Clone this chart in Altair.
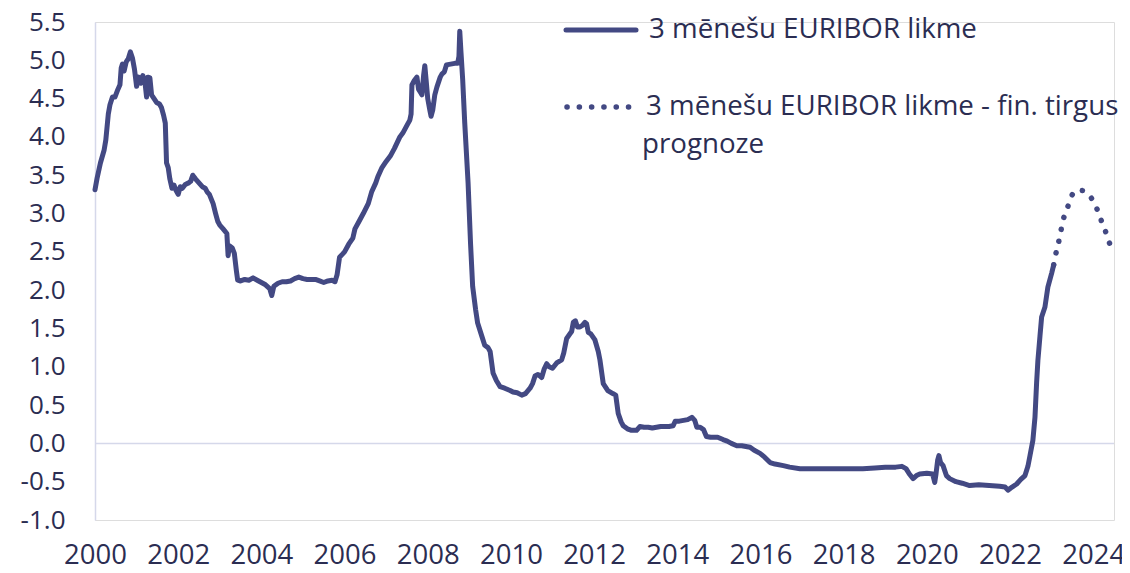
import altair as alt
import pandas as pd

# --- data (decimal years, % values) ---
hist_t = [
    2000.00, 2000.05, 2000.13, 2000.22, 2000.26, 2000.32, 2000.36, 2000.42, 2000.48, 2000.55,
    2000.60, 2000.63, 2000.66, 2000.70, 2000.75, 2000.80, 2000.85, 2000.90, 2000.95, 2001.00,
    2001.05, 2001.10, 2001.15, 2001.20, 2001.24, 2001.27, 2001.32, 2001.36, 2001.42, 2001.48,
    2001.55, 2001.60, 2001.65, 2001.69, 2001.72, 2001.76, 2001.80, 2001.85, 2001.90, 2001.95,
    2002.00, 2002.05, 2002.10, 2002.17, 2002.25, 2002.30, 2002.35, 2002.42, 2002.50, 2002.58,
    2002.65, 2002.70, 2002.75, 2002.84, 2002.90, 2002.95, 2003.00, 2003.08, 2003.17, 2003.20,
    2003.23, 2003.30, 2003.35, 2003.40, 2003.43, 2003.50, 2003.60, 2003.70, 2003.80, 2003.90,
    2004.00, 2004.10, 2004.20, 2004.25, 2004.30, 2004.40, 2004.50, 2004.60, 2004.70, 2004.80,
    2004.90, 2005.00, 2005.10, 2005.20, 2005.30, 2005.40, 2005.50, 2005.60, 2005.70, 2005.77,
    2005.82, 2005.88, 2005.95, 2006.00, 2006.10, 2006.20, 2006.25, 2006.35, 2006.45, 2006.57,
    2006.65, 2006.75, 2006.80, 2006.90, 2007.00, 2007.10, 2007.20, 2007.33, 2007.40, 2007.50,
    2007.57, 2007.60, 2007.62, 2007.68, 2007.74, 2007.78, 2007.83, 2007.86, 2007.90, 2007.93,
    2007.96, 2008.00, 2008.05, 2008.08, 2008.12, 2008.17, 2008.22, 2008.30, 2008.34, 2008.40,
    2008.45, 2008.55, 2008.65, 2008.72, 2008.75, 2008.77, 2008.80, 2008.84, 2008.89, 2008.97,
    2009.03, 2009.08, 2009.15, 2009.20, 2009.30, 2009.37, 2009.45, 2009.50, 2009.57, 2009.65,
    2009.74, 2009.85, 2009.98, 2010.05, 2010.15, 2010.26, 2010.35, 2010.46, 2010.52, 2010.58,
    2010.65, 2010.74, 2010.80, 2010.86, 2010.92, 2011.00, 2011.10, 2011.22, 2011.27, 2011.34,
    2011.42, 2011.46, 2011.50, 2011.55, 2011.60, 2011.66, 2011.72, 2011.78, 2011.82, 2011.86,
    2011.92, 2012.02, 2012.10, 2012.14, 2012.22, 2012.33, 2012.45, 2012.52, 2012.58, 2012.65,
    2012.70, 2012.80, 2012.90, 2013.02, 2013.10, 2013.20, 2013.30, 2013.40, 2013.50, 2013.60,
    2013.70, 2013.80, 2013.90, 2013.95, 2014.05, 2014.15, 2014.25, 2014.35, 2014.42, 2014.47,
    2014.55, 2014.63, 2014.70, 2014.80, 2014.97, 2015.10, 2015.20, 2015.30, 2015.43, 2015.55,
    2015.65, 2015.75, 2015.85, 2015.99, 2016.10, 2016.23, 2016.35, 2016.55, 2016.70, 2016.95,
    2017.25, 2017.50, 2017.75, 2018.00, 2018.25, 2018.46, 2018.75, 2019.00, 2019.25, 2019.40,
    2019.50, 2019.58, 2019.67, 2019.75, 2019.83, 2020.00, 2020.14, 2020.19, 2020.22, 2020.26,
    2020.29, 2020.33, 2020.39, 2020.47, 2020.55, 2020.70, 2020.85, 2021.03, 2021.25, 2021.50,
    2021.75, 2021.88, 2021.95, 2022.05, 2022.16, 2022.26, 2022.36, 2022.43, 2022.48, 2022.55,
    2022.60, 2022.64, 2022.67, 2022.72, 2022.76, 2022.84, 2022.91, 2023.00, 2023.05,
]
hist_v = [
    3.31, 3.46, 3.66, 3.83, 3.96, 4.30, 4.42, 4.52, 4.52, 4.62,
    4.68, 4.90, 4.95, 4.86, 4.98, 5.02, 5.11, 5.03, 4.88, 4.66,
    4.78, 4.70, 4.80, 4.72, 4.52, 4.78, 4.77, 4.55, 4.50, 4.45,
    4.43, 4.38, 4.28, 4.18, 3.66, 3.60, 3.45, 3.33, 3.37, 3.30,
    3.25, 3.35, 3.33, 3.38, 3.40, 3.42, 3.50, 3.45, 3.40, 3.35,
    3.33, 3.28, 3.25, 3.13, 3.00, 2.90, 2.85, 2.80, 2.74, 2.45,
    2.58, 2.55, 2.48, 2.25, 2.13, 2.12, 2.14, 2.13, 2.16, 2.13,
    2.10, 2.07, 2.02, 1.93, 2.05, 2.09, 2.11, 2.11, 2.12, 2.15,
    2.17, 2.15, 2.14, 2.14, 2.14, 2.12, 2.10, 2.12, 2.13, 2.11,
    2.20, 2.43, 2.47, 2.50, 2.60, 2.68, 2.80, 2.90, 3.00, 3.13,
    3.28, 3.40, 3.48, 3.60, 3.68, 3.75, 3.85, 4.00, 4.05, 4.15,
    4.22, 4.30, 4.68, 4.74, 4.78, 4.62, 4.58, 4.55, 4.80, 4.93,
    4.75, 4.50, 4.35, 4.27, 4.35, 4.55, 4.65, 4.78, 4.82, 4.85,
    4.94, 4.95, 4.96, 4.96, 5.05, 5.38, 5.10, 4.75, 4.18, 3.40,
    2.60, 2.05, 1.75, 1.57, 1.40, 1.28, 1.25, 1.20, 0.92, 0.82,
    0.74, 0.72, 0.69, 0.67, 0.66, 0.63, 0.65, 0.72, 0.78, 0.88,
    0.90, 0.86, 0.97, 1.04, 1.00, 0.98, 1.05, 1.09, 1.18, 1.37,
    1.43, 1.46, 1.58, 1.60, 1.52, 1.52, 1.54, 1.58, 1.56, 1.45,
    1.43, 1.35, 1.20, 1.09, 0.78, 0.69, 0.65, 0.63, 0.39, 0.28,
    0.23, 0.19, 0.17, 0.17, 0.22, 0.21, 0.21, 0.20, 0.21, 0.22,
    0.22, 0.22, 0.23, 0.29, 0.29, 0.30, 0.31, 0.34, 0.30, 0.21,
    0.21, 0.18, 0.09, 0.08, 0.08, 0.05, 0.03, 0.00, -0.03, -0.03,
    -0.04, -0.05, -0.09, -0.13, -0.18, -0.25, -0.27, -0.29, -0.31, -0.33,
    -0.33, -0.33, -0.33, -0.33, -0.33, -0.33, -0.32, -0.31, -0.31, -0.30,
    -0.33, -0.40, -0.46, -0.42, -0.40, -0.39, -0.40, -0.51, -0.40, -0.22,
    -0.16, -0.25, -0.29, -0.42, -0.46, -0.50, -0.52, -0.55, -0.54, -0.55,
    -0.56, -0.57, -0.61, -0.57, -0.53, -0.47, -0.42, -0.30, -0.16, 0.04,
    0.34, 0.80, 1.08, 1.40, 1.65, 1.78, 2.04, 2.22, 2.33,
]
fc_t = [2023.05, 2023.10, 2023.17, 2023.29, 2023.39, 2023.49, 2023.60, 2023.73,
        2023.85, 2023.97, 2024.09, 2024.20, 2024.30, 2024.40]
fc_v = [2.33, 2.47, 2.63, 2.94, 3.09, 3.24, 3.30, 3.30,
        3.26, 3.19, 3.06, 2.90, 2.76, 2.60]

x_ticks = list(range(2000, 2025, 2))
y_ticks = [-1.0, -0.5, 0.0, 0.5, 1.0, 1.5, 2.0, 2.5, 3.0, 3.5, 4.0, 4.5, 5.0, 5.5]
legend_labels = ["3 mēnešu EURIBOR likme",
                 "3 mēnešu EURIBOR likme - fin. tirgus",
                 "prognoze"]

LINE = "#434983"
TEXT = "#2b2d52"
AXIS = "#d5d8ea"
FONT = "Open Sans"

hist = pd.DataFrame({"t": hist_t, "v": hist_v})
fc = pd.DataFrame({"t": fc_t, "v": fc_v})

xscale = alt.Scale(domain=[2000, 2024.5], nice=False, zero=False)
yscale = alt.Scale(domain=[-1.0, 5.5], nice=False, zero=False)

xaxis = alt.Axis(values=x_ticks, format="d", title=None, domain=False, ticks=False,
                 grid=False, labelFontSize=27.5, labelFont=FONT, labelColor=TEXT,
                 labelPadding=21, labelFlush=False, labelOverlap=False)
yaxis = alt.Axis(values=y_ticks, title=None, domain=True, domainColor=AXIS, domainWidth=1.5,
                 ticks=False, grid=False, labelFontSize=26, labelFont=FONT,
                 labelColor=TEXT, labelPadding=30,
                 labelExpr="(datum.value < 0 ? '-' : '') + format(abs(datum.value), '.1f')")

zero = alt.Chart(pd.DataFrame({"v": [0.0]})).mark_rule(color=AXIS, strokeWidth=1.5).encode(
    y=alt.Y("v:Q", scale=yscale, axis=yaxis)
)

line = alt.Chart(hist).mark_line(color=LINE, strokeWidth=5, strokeJoin="round",
                                 strokeCap="round").encode(
    x=alt.X("t:Q", scale=xscale, axis=xaxis),
    y=alt.Y("v:Q", scale=yscale, axis=yaxis),
)

fcline = alt.Chart(fc).mark_line(color=LINE, strokeWidth=5.5, strokeCap="round",
                                 strokeDash=[0.1, 12.0], interpolate="monotone").encode(
    x=alt.X("t:Q", scale=xscale, axis=xaxis),
    y=alt.Y("v:Q", scale=yscale, axis=yaxis),
)

one = alt.Data(values=[{"a": 1}])

leg_solid = alt.Chart(one).mark_rule(color=LINE, strokeWidth=5, strokeCap="round").encode(
    x=alt.value(471), x2=alt.value(541), y=alt.value(8)
)
leg_dot = alt.Chart(one).mark_rule(color=LINE, strokeWidth=5.5, strokeCap="round",
                                   strokeDash=[0.1, 12.2]).encode(
    x=alt.value(472), x2=alt.value(534), y=alt.value(85)
)

def txt(label, x, y):
    return alt.Chart(one).mark_text(align="left", baseline="alphabetic", font=FONT,
                                    fontSize=27.7, color=TEXT).encode(
        x=alt.value(x), y=alt.value(y), text=alt.value(label)
    )

chart = alt.layer(
    zero, line, fcline, leg_solid, leg_dot,
    txt(legend_labels[0], 554, 16),
    txt(legend_labels[1], 551, 93),
    txt(legend_labels[2], 547, 131),
).properties(
    width=1019, height=498,
    autosize=alt.AutoSizeParams(type="none"),
    padding={"left": 87, "top": 14, "right": 8, "bottom": 45},
).configure_view(stroke=None).configure(background="white")

chart.save("out.html", embed_options={"renderer": "svg", "actions": False})
